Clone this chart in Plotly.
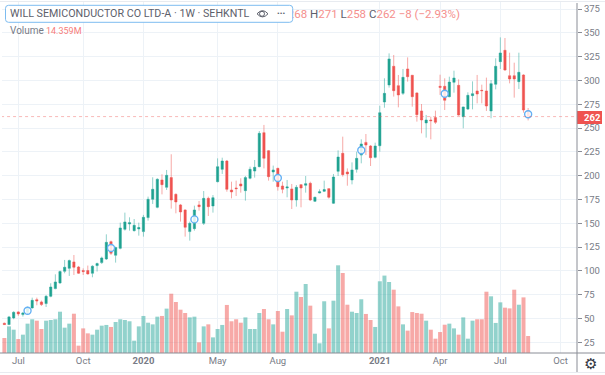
import pandas as pd
import plotly.graph_objects as go

start_date = "2019-06-10"
open_ = [44.9,43.5,50.5,56.8,54.0,56.1,61.0,69.7,67.3,65.6,73.2,81.3,87.3,99.5,102.6,109.3,104.0,100.2,100.2,97.4,105.5,108.6,112.4,130.6,116.3,123.6,143.6,149.2,142.2,144.0,
141.2,155.9,175.1,166.7,195.4,187.7,197.9,180.3,169.2,163.9,141.2,144.3,169.2,149.9,176.1,168.1,193.6,206.6,215.3,184.9,187.0,191.2,184.2,197.2,204.8,209.4,245.1,226.2,
203.8,207.6,189.1,187.0,186.0,174.4,190.5,189.8,191.9,173.0,181.7,183.5,186.3,170.9,204.5,223.4,203.8,195.4,206.6,221.6,234.9,231.1,219.2,231.4,277.3,
295.2,314.8,294.5,286.4,312.0,305.4,286.8,267.9,255.3,258.4,260.9,293.8,293.8,282.9,298.0,294.8,261.9,269.9,284.0,288.9,289.6,288.9,267.9,295.9,319.7,331.6,304.9,304.9,298.7,305.7,268]
high = [45.6,52.6,57.5,57.5,56.8,62.4,71.8,71.8,68.7,74.6,86.9,96.3,100.2,111.4,111.8,116.6,105.1,102.6,105.5,105.8,108.6,114.9,138.3,131.7,125.4,150.6,161.1,156.2,154.4,150.6,
158.7,177.9,198.2,197.2,201.4,205.9,222.4,181.4,170.2,164.6,151.7,168.4,173.3,183.8,177.9,179.6,218.1,218.8,216.4,193.6,194.7,197.2,199.6,209.4,216.4,246.8,253.2,226.9,
210.5,208.3,193.6,195.4,191.2,190.1,190.8,199.6,193.6,177.9,185.6,194.7,186.7,201.7,226.5,240.9,207.6,213.9,225.1,238.1,243.7,232.1,234.6,273.4,302.2,
328.4,326.7,305.7,312.0,324.2,305.7,287.5,275.2,263.7,261.9,268.2,306.0,302.2,303.9,310.2,301.1,272.4,287.5,299.0,305.7,295.5,302.9,300.4,323.2,345.2,344.5,329.1,318.6,329.1,306.4,271]
low = [43.1,43.1,49.1,52.6,51.9,54.7,60.3,63.8,63.1,62.0,72.2,80.6,86.2,97.4,94.6,95.6,96.7,95.6,96.0,93.2,99.2,107.2,111.4,116.6,108.6,122.6,142.2,142.2,141.2,136.9,
135.9,152.7,170.2,165.7,180.3,184.9,165.3,160.4,151.7,135.9,131.7,142.2,163.2,148.1,157.6,161.1,192.9,201.7,183.1,176.1,178.6,182.1,173.7,196.1,197.9,208.7,207.6,194.7,
193.6,184.2,181.4,177.2,164.9,167.4,166.7,182.1,173.3,172.3,181.4,182.8,175.8,170.2,199.6,198.9,189.4,190.8,203.1,212.9,221.6,210.1,218.1,225.1,271.3,
292.4,283.0,271.7,284.7,298.7,272.4,256.7,244.4,239.9,238.1,254.2,284.7,268.9,282.2,287.1,262.9,249.7,268.9,269.6,275.9,275.9,267.9,260.2,290.6,312.0,310.2,296.9,281.9,291.0,266.1,258]
close = [43.5,51.6,56.4,54.7,55.7,60.6,69.0,68.3,64.5,73.2,83.0,88.3,99.2,103.7,110.7,103.7,97.4,99.2,96.7,104.8,107.6,113.5,129.9,118.4,124.4,145.0,151.3,150.6,147.8,145.4,
156.2,175.1,185.6,196.1,190.5,200.3,174.4,172.3,161.8,145.7,149.9,163.9,167.4,176.1,167.4,176.8,209.4,215.3,185.6,182.8,186.3,189.1,197.9,206.6,208.7,244.4,218.2,198.9,
205.9,188.4,185.6,188.1,174.4,187.7,187.0,191.5,174.4,177.2,183.1,185.3,177.2,198.5,219.5,201.0,201.7,205.9,218.1,233.2,232.1,218.8,231.1,266.1,286.4,
322.5,289.2,284.7,303.2,303.9,282.9,264.0,258.4,258.4,257.7,256.0,292.7,279.1,298.3,302.5,263.6,272.1,284.3,286.1,285.7,289.2,273.1,296.6,314.8,328.8,310.9,301.5,301.5,308.5,268.9,262]
volume_m = [12.7,22.5,19.7,11.8,15.5,24.8,28.5,27.3,20.3,27.3,27.9,28.5,34.9,21.4,24.8,33.2,6.2,20.8,16.6,15.5,19.7,23.1,23.7,22.0,26.2,28.5,27.9,26.8,10.4,22.5,
31.3,25.6,24.2,30.7,31.3,37.5,50.1,43.1,36.6,33.8,30.1,30.7,9.0,22.5,24.2,13.2,20.3,23.7,40.6,26.8,28.5,25.6,30.1,20.3,20.3,33.8,37.2,28.5,24.2,35.5,18.0,37.2,31.8,51.8,
47.3,58.3,40.0,16.3,8.2,43.7,20.8,44.2,74.1,67.6,40.8,34.9,33.8,45.4,33.0,27.9,22.0,60.6,65.4,60.0,53.5,39.4,24.2,18.9,34.6,33.8,33.2,27.3,19.7,12.1,17.7,23.9,24.8,20.8,
15.5,30.1,12.1,27.3,28.5,28.5,51.8,47.9,25.4,42.8,38.3,37.7,53.5,40.8,47.0,14.359]
marker_weeks = [5,23,41,59,77,95,113]
marker_prices = [58.1,124,154,197.5,226.6,286,264.4]
price_ticks = list(range(25, 400, 25))
x_tick_dates = ["2019-07-01","2019-10-07","2020-01-06","2020-04-27","2020-07-27","2020-12-28","2021-03-29","2021-06-28","2021-09-27"]
x_tick_labels = ["Jul","Oct","<b>2020</b>","May","Aug","<b>2021</b>","Apr","Jul","Oct"]
title = "WILL SEMICONDUCTOR CO LTD-A · 1W · SEHKNTL"
last_price = 262

UP, DOWN = "#1fa28f", "#ef5350"
UP_SOFT, DOWN_SOFT = "rgba(38,166,154,0.5)", "rgba(239,83,80,0.5)"
GREY, GRID = "#5d606b", "#edf2f7"
FONT = "Roboto"
W, H, ML, MR, MT, MB = 605, 375, 2, 28, 2, 22
px = lambda x: (x - ML) / (W - ML - MR)
py = lambda y: 1 - (y - MT) / (H - MT - MB)

dates = pd.date_range(start_date, periods=len(close), freq="7D")
fig = go.Figure()
fig.add_trace(go.Bar(x=dates, y=volume_m, yaxis="y",
                     marker=dict(color=[UP_SOFT if c >= o else DOWN_SOFT for o, c in zip(open_, close)], line_width=0)))
fig.add_trace(go.Candlestick(x=dates, open=open_, high=high, low=low, close=close, yaxis="y2",
                             increasing=dict(line=dict(color="rgba(38,166,154,0.5)", width=1), fillcolor=UP),
                             decreasing=dict(line=dict(color="rgba(239,83,80,0.5)", width=1), fillcolor=DOWN),
                             whiskerwidth=0))
fig.add_trace(go.Scatter(x=[dates[i] for i in marker_weeks], y=marker_prices, yaxis="y2", mode="markers",
                         marker=dict(size=7, color="rgba(255,255,255,0.85)", line=dict(color="#64b0f4", width=1.4))))
fig.add_trace(go.Scatter(x=[pd.Timestamp("2020-08-11")], y=[368.7], yaxis="y2", mode="text", textposition="middle right",
                         cliponaxis=False,
                         text=[f'268 <span style="color:{GREY}">H</span>271 '
                               f'<span style="color:{GREY}">L</span>258 <span style="color:{GREY}">C</span>262 −8 (−2.93%)'],
                         textfont=dict(family=FONT, size=11.5, color="#f58f8d")))

def rounded(x0, y0, x1, y1, r):
    return (f"M {px(x0 + r)} {py(y0)} L {px(x1 - r)} {py(y0)} Q {px(x1)} {py(y0)} {px(x1)} {py(y0 + r)} "
            f"L {px(x1)} {py(y1 - r)} Q {px(x1)} {py(y1)} {px(x1 - r)} {py(y1)} "
            f"L {px(x0 + r)} {py(y1)} Q {px(x0)} {py(y1)} {px(x0)} {py(y1 - r)} "
            f"L {px(x0)} {py(y0 + r)} Q {px(x0)} {py(y0)} {px(x0 + r)} {py(y0)} Z")

shapes = [
    dict(type="line", xref="x", yref="y2", x0=dates[0] - pd.Timedelta(days=5), x1="2021-10-22", y0=last_price, y1=last_price,
         line=dict(color="rgba(239,83,80,0.4)", width=1, dash="dot"), layer="above"),
    dict(type="path", xref="paper", yref="paper", path=rounded(5.5, 5.3, 292.7, 22.3, 3), layer="above",
         fillcolor="white", line=dict(color="#7dbcf0", width=1)),
    dict(type="rect", xref="paper", yref="paper", x0=px(577), x1=px(602), y0=py(124), y1=py(111),
         fillcolor=DOWN, line_width=0, layer="above"),
    dict(type="circle", xref="paper", yref="paper", x0=px(259.5), x1=px(264.5), y0=py(16.3), y1=py(11.3), layer="above",
         line=dict(color=GREY, width=1)),
    dict(type="path", xref="paper", yref="paper", layer="above", line=dict(color=GREY, width=1),
         path=f"M {px(257)} {py(13.8)} Q {px(262.5)} {py(7.5)} {px(268)} {py(13.8)} Q {px(262.5)} {py(20)} {px(257)} {py(13.8)} Z"),
    dict(type="line", xref="paper", yref="paper", x0=px(0), x1=px(605), y0=py(353), y1=py(353), layer="above",
         line=dict(color="#8a8d96", width=1)),
    dict(type="line", xref="paper", yref="paper", x0=px(577), x1=px(577), y0=py(3), y1=py(372), layer="above",
         line=dict(color="#8a8d96", width=1)),
    dict(type="line", xref="paper", yref="paper", x0=px(0), x1=px(605), y0=py(372.5), y1=py(372.5), layer="above",
         line=dict(color="#e8ebf0", width=1)),
    dict(type="line", xref="paper", yref="paper", x0=px(0), x1=px(605), y0=py(1.5), y1=py(1.5), layer="above",
         line=dict(color="#e8ebf0", width=1)),
]
def note(x, y, text, **kw):
    return dict(xref="paper", yref="paper", x=px(x), y=py(y), text=text, showarrow=False, xanchor="left", yanchor="middle",
                borderpad=0, font=dict(family=FONT, size=kw.pop("size", 9.5), color=kw.pop("color", GREY)), **kw)
annotations = [
    note(9, 14, title, size=10.7),
    note(276, 14, "•••", size=8),
    note(9, 31, "Volume", size=10, color="#787b86"),
    note(45, 31, "14.359M", size=9, color="#f77c7a"),
    note(583, 117.5, f"<b>{last_price}</b>", size=9.5, color="white"),
    note(583, 364, "⚙", size=15, color="#33363f"),
]
fig.update_layout(
    width=W, height=H, margin=dict(l=ML, r=MR, t=MT, b=MB), paper_bgcolor="white", plot_bgcolor="white",
    showlegend=False, bargap=0.14, boxgap=0.3, font=dict(family=FONT, color=GREY),
    xaxis=dict(type="date", range=["2019-06-06 09:36", "2021-10-21 19:00"], rangeslider_visible=False,
               tickmode="array", tickvals=x_tick_dates, ticktext=x_tick_labels, ticks="", tickfont=dict(size=9.5, color="#787b86"),
               showgrid=True, gridcolor=GRID, gridwidth=1, showline=False, zeroline=False),
    yaxis=dict(range=[0, 296.6], visible=False, showgrid=False),
    yaxis2=dict(range=[13.66, 382.35], overlaying="y", side="right", tickmode="array", tickvals=price_ticks,
                ticks="outside", ticklen=4, tickcolor="#8a8d96", tickfont=dict(size=9.5, color="#787b86"),
                showgrid=True, gridcolor=GRID, gridwidth=1, zeroline=False, showline=False),
    shapes=shapes, annotations=annotations,
)
fig.write_html("out.html", config=dict(displayModeBar=False), post_script="document.body.style.margin='0';")
